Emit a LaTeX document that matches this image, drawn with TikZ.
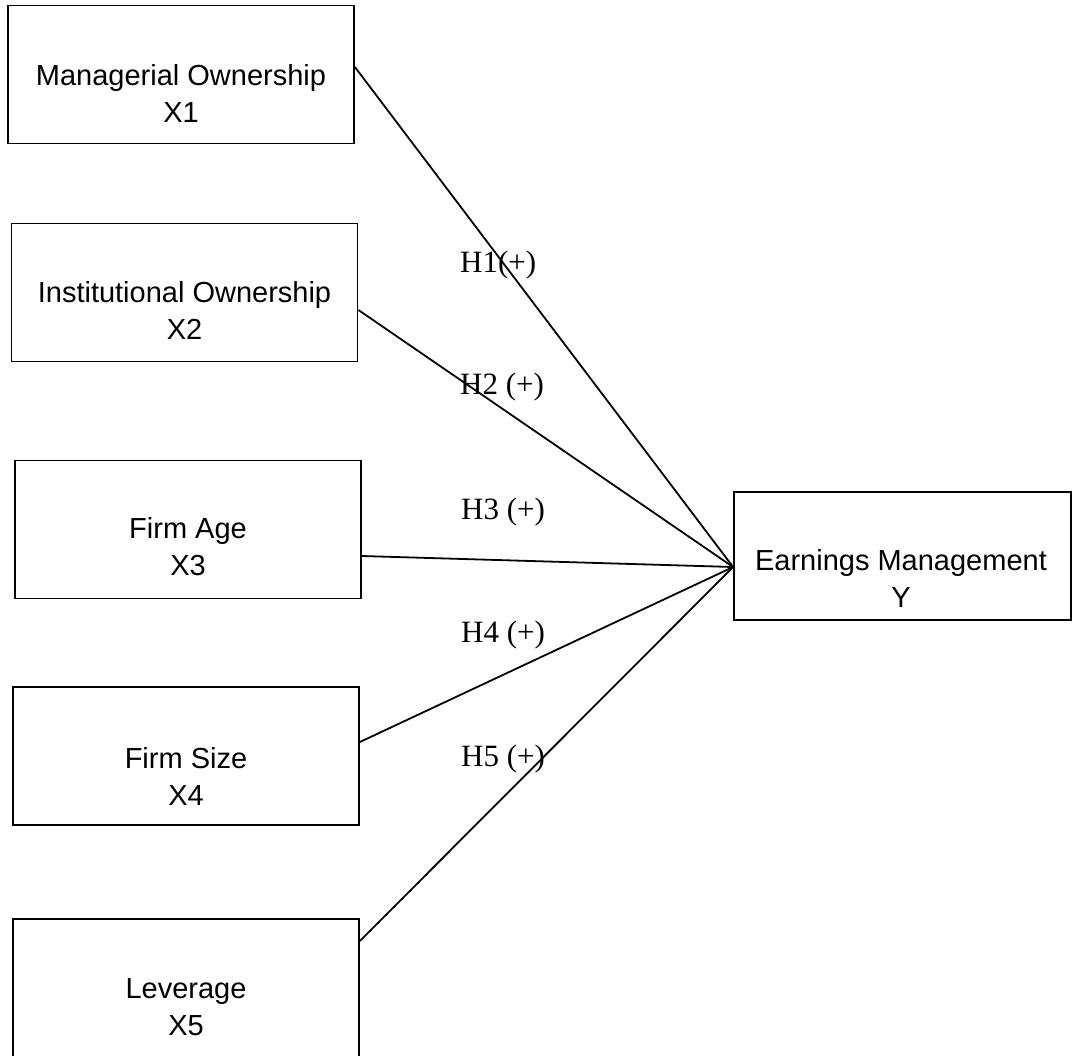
\documentclass[tikz,border=0pt]{standalone}
\usepackage{fontspec}
\setmainfont{Liberation Sans}
\newfontfamily\hypfont{Liberation Serif}

\begin{document}
\begin{tikzpicture}[
  x=1pt, y=-1pt,
  box/.style={draw, line width=1.8pt, inner sep=0pt, minimum width=346pt, minimum height=138pt},
  vartext/.style={align=center, inner sep=0pt, font=\fontsize{29}{37}\selectfont},
  hyp/.style={anchor=base west, inner sep=0pt, font=\hypfont\fontsize{31}{36}\selectfont},
  link/.style={line width=1.8pt},
]
\useasboundingbox (0,0) rectangle (1073,1055);
\clip (0,0) rectangle (1073,1055);
% independent variables
\node[box] (x1) at (181,74.5) {};
\node[box] (x2) at (184.5,292.5) {};
\node[box] (x3) at (188,529.5) {};
\node[box] (x4) at (186,756) {};
\node[box, minimum height=142pt] (x5) at (186,990) {};
\node[vartext] (t1) at (181,93.5) {Managerial Ownership\\X1};
\node[vartext] (t2) at (184.5,310) {Institutional Ownership\\X2};
\node[vartext] (t3) at (188,547) {Firm Age\\X3};
\node[vartext] (t4) at (186,776.5) {Firm Size\\X4};
\node[vartext] (t5) at (186,1007.5) {Leverage\\X5};
% dependent variable
\node[box, minimum width=337pt, minimum height=128pt] (y) at (902.5,556) {};
\node[vartext] (ty) at (901,578.5) {Earnings Management\\Y};
% paths
\draw[link] ([yshift=7.5pt]x1.east) -- ([yshift=-11pt]y.west);
\draw[link] ([yshift=-17.5pt]x2.east) -- ([yshift=-11pt]y.west);
\draw[link] ([yshift=-26.5pt]x3.east) -- ([yshift=-11pt]y.west);
\draw[link] ([yshift=14pt]x4.east) -- ([yshift=-11pt]y.west);
\draw[link] ([yshift=49pt]x5.east) -- ([yshift=-11pt]y.west);
\node[hyp] (h1) at (460,272) {H1(+)};
\node[hyp] (h2) at (460,394) {H2 (+)};
\node[hyp] (h3) at (461,519) {H3 (+)};
\node[hyp] (h4) at (461,642) {H4 (+)};
\node[hyp] (h5) at (461,766) {H5 (+)};
\end{tikzpicture}
\end{document}
